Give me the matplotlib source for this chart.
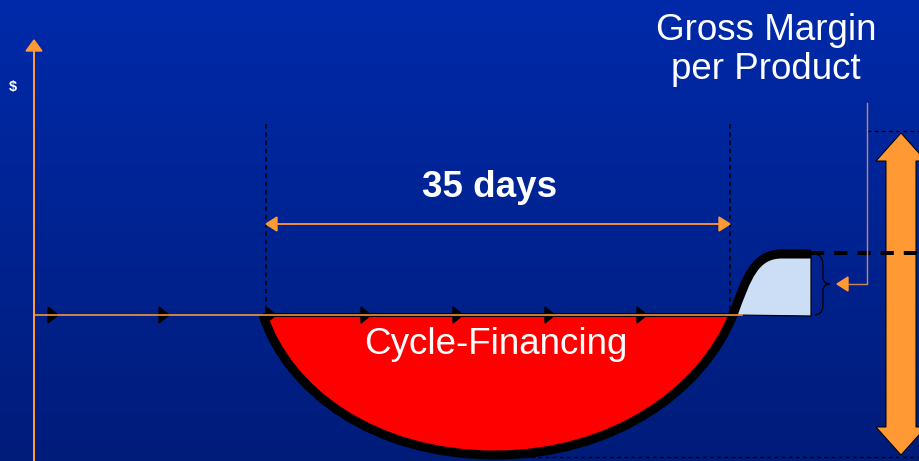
import numpy as np
import matplotlib.pyplot as plt
from matplotlib.patches import Polygon, PathPatch
from matplotlib.path import Path

W, H = 919, 461

# timeline: origin of the axes and where the flow markers sit
origin_x = 34
axis_y = 315
marker_x = [52, 163, 270, 365, 457, 549, 641]

# cash cycle
cycle_start, cycle_end = 266, 730
cycle_days = 35
dip_bottom = 455        # deepest point of the financing need
dip_x = 495
margin_top = 254        # height of the gross margin plateau
margin_end = 811

ORANGE = '#FF9933'
TXT = ['Liberation Sans', 'DejaVu Sans']

fig = plt.figure(figsize=(W / 100, H / 100), dpi=100)
ax = fig.add_axes([0, 0, 1, 1])
ax.set_xlim(0, W)
ax.set_ylim(H, 0)
ax.axis('off')

# background gradient
grad = np.linspace(0, 1, 256)[:, None]
top = np.array([0, 42, 170]) / 255
bot = np.array([0, 28, 122]) / 255
bg = top + grad[..., None] * (bot - top)
bg = np.repeat(bg, 2, axis=1)
ax.imshow(bg, extent=[0, W, H, 0], aspect='auto', zorder=0)

px = 0.72  # points per pixel

# financing dip (red) and margin bump (light blue)
l0 = (cycle_start - 3, axis_y)
mid = (dip_x, dip_bottom)
r0 = (cycle_end + 3, axis_y)
dip_verts = [l0, (288, 392), (375, dip_bottom), mid,
             (612, dip_bottom), (702, 392), r0]
dip_codes = [Path.MOVETO] + [Path.CURVE4] * 6
red = PathPatch(Path(dip_verts + [l0], dip_codes + [Path.LINETO]),
                facecolor='#FF0000', edgecolor='black', lw=4 * px, zorder=2)
ax.add_patch(red)

bump_verts = [r0, (747, 276), (755, margin_top), (782, margin_top),
              (margin_end, margin_top)]
bump_codes = [Path.MOVETO, Path.CURVE4, Path.CURVE4, Path.CURVE4, Path.LINETO]
blue = PathPatch(Path(bump_verts + [(margin_end, axis_y + 1), r0],
                      bump_codes + [Path.LINETO, Path.LINETO]),
                 facecolor='#CCDDF6', edgecolor='black', lw=1.2 * px, zorder=2)
ax.add_patch(blue)

curve = Path(dip_verts + bump_verts[1:], dip_codes + bump_codes[1:])
ax.add_patch(PathPatch(curve, facecolor='none', edgecolor='black',
                       lw=9 * px, capstyle='butt', zorder=3))

# axes
ax.plot([origin_x, origin_x], [H, 50], color=ORANGE, lw=2 * px, zorder=4)
ax.add_patch(Polygon([(origin_x - 8, 51), (origin_x + 8, 51), (origin_x, 40)],
                     color=ORANGE, zorder=4))
ax.plot([origin_x, 742], [axis_y, axis_y], color=ORANGE, lw=1.6 * px, zorder=4)
for mx in marker_x:
    ax.add_patch(Polygon([(mx - 4, axis_y - 8), (mx - 4, axis_y + 8), (mx + 6, axis_y)],
                         color='black', zorder=3.5))
ax.text(13, 87, '$', color='white', fontsize=10.5, fontweight='bold',
        family=TXT, ha='center', va='center', zorder=5)

# cycle length
for x in (cycle_start, cycle_end):
    ax.plot([x, x], [124, axis_y], color='black', lw=1.5 * px,
            dashes=(3, 2.5), zorder=1.5)
ay = 224
ax.plot([cycle_start + 8, cycle_end - 8], [ay, ay], color='#F0883A', lw=2 * px, zorder=4)
ax.add_patch(Polygon([(cycle_start, ay), (cycle_start + 11, ay - 7), (cycle_start + 11, ay + 7)],
                     color=ORANGE, zorder=4))
ax.add_patch(Polygon([(cycle_end, ay), (cycle_end - 11, ay - 7), (cycle_end - 11, ay + 7)],
                     color=ORANGE, zorder=4))
ax.text(490, 187, f'{cycle_days} days', color='white',
        fontsize=26.5, fontweight='bold', family=TXT, ha='center', va='center', zorder=5)

ax.text(496, 344, 'Cycle-Financing', color='white',
        fontsize=26.5, family=TXT, ha='center', va='center', zorder=5)

# gross margin callout
ax.text(766, 50, 'Gross Margin\nper Product', color='white', fontsize=26.5,
        family=TXT, ha='center', va='center', linespacing=1.12, zorder=5)
ax.plot([867, 867, 846], [103, 284, 284], color='#C8875A', lw=1.4 * px, zorder=4)
ax.add_patch(Polygon([(837, 284), (848, 277), (848, 291)], color=ORANGE, zorder=4))

brace = Path([(815, 254), (823, 255), (823, 262), (823, 270), (823, 278),
              (823, 282), (826, 284), (830, 284),
              (826, 284), (823, 286), (823, 291), (823, 300),
              (823, 308), (823, 314), (815, 315)],
             [Path.MOVETO, Path.CURVE4, Path.CURVE4, Path.CURVE4, Path.LINETO,
              Path.CURVE4, Path.CURVE4, Path.CURVE4,
              Path.CURVE4, Path.CURVE4, Path.CURVE4, Path.LINETO,
              Path.CURVE4, Path.CURVE4, Path.CURVE4])
ax.add_patch(PathPatch(brace, facecolor='none', edgecolor='black', lw=1.3 * px, zorder=4))

# reference levels
ax.plot([margin_end, W], [margin_top - 1, margin_top - 1], color='black', lw=4 * px,
        dashes=(3.3, 2.5), zorder=3.6)
ax.plot([867, W], [131, 131], color='black', lw=1.3 * px, dashes=(3, 2.5), zorder=1.5)
ax.plot([dip_x, W], [457, 457], color='black', lw=1.3 * px, dashes=(3, 2.5), zorder=1.5)

# total margin double arrow
cx, hw, sw, hl = 901, 25, 15, 28
y_top, y_bot = 133, 455
arrow = [(cx, y_top), (cx + hw, y_top + hl), (cx + sw, y_top + hl),
         (cx + sw, y_bot - hl), (cx + hw, y_bot - hl), (cx, y_bot),
         (cx - hw, y_bot - hl), (cx - sw, y_bot - hl), (cx - sw, y_top + hl),
         (cx - hw, y_top + hl)]
ax.add_patch(Polygon(arrow, facecolor=ORANGE, edgecolor='black', lw=1 * px, zorder=3.2))

fig.savefig('out.png', dpi=100)
